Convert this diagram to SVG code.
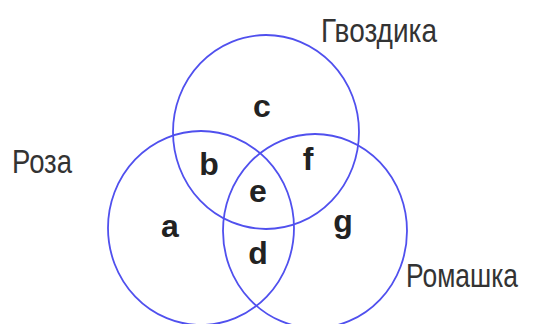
<svg xmlns="http://www.w3.org/2000/svg" width="549" height="324" viewBox="0 0 549 324">
<style>
.c{fill:none;stroke:#5050ee;stroke-width:1.8}
.lbl{font-family:"Liberation Sans",Arial,sans-serif;font-size:33px;fill:#333}
.r{font-family:"Liberation Sans",Arial,sans-serif;font-size:32px;font-weight:bold;fill:#222;text-anchor:middle}
</style>
<rect width="549" height="324" fill="#fff"/>
<g id="connectors"></g>
<g id="gvozdika"><ellipse class="c" cx="266" cy="132" rx="93" ry="97"/><text class="lbl" x="321" y="42" textLength="116" lengthAdjust="spacingAndGlyphs">Гвоздика</text></g>
<g id="roza"><ellipse class="c" cx="201" cy="228" rx="93" ry="97"/><text class="lbl" x="12" y="173" textLength="60" lengthAdjust="spacingAndGlyphs">Роза</text></g>
<g id="romashka"><ellipse class="c" cx="315" cy="231" rx="92" ry="97"/><text class="lbl" x="406" y="287" textLength="112" lengthAdjust="spacingAndGlyphs">Ромашка</text></g>
<g id="regions">
<text class="r" x="262" y="117">c</text>
<text class="r" x="209" y="175">b</text>
<text class="r" x="308" y="170">f</text>
<text class="r" x="258" y="202">e</text>
<text class="r" x="170" y="237">a</text>
<text class="r" x="343" y="232">g</text>
<text class="r" x="258" y="264">d</text>
</g>
</svg>
